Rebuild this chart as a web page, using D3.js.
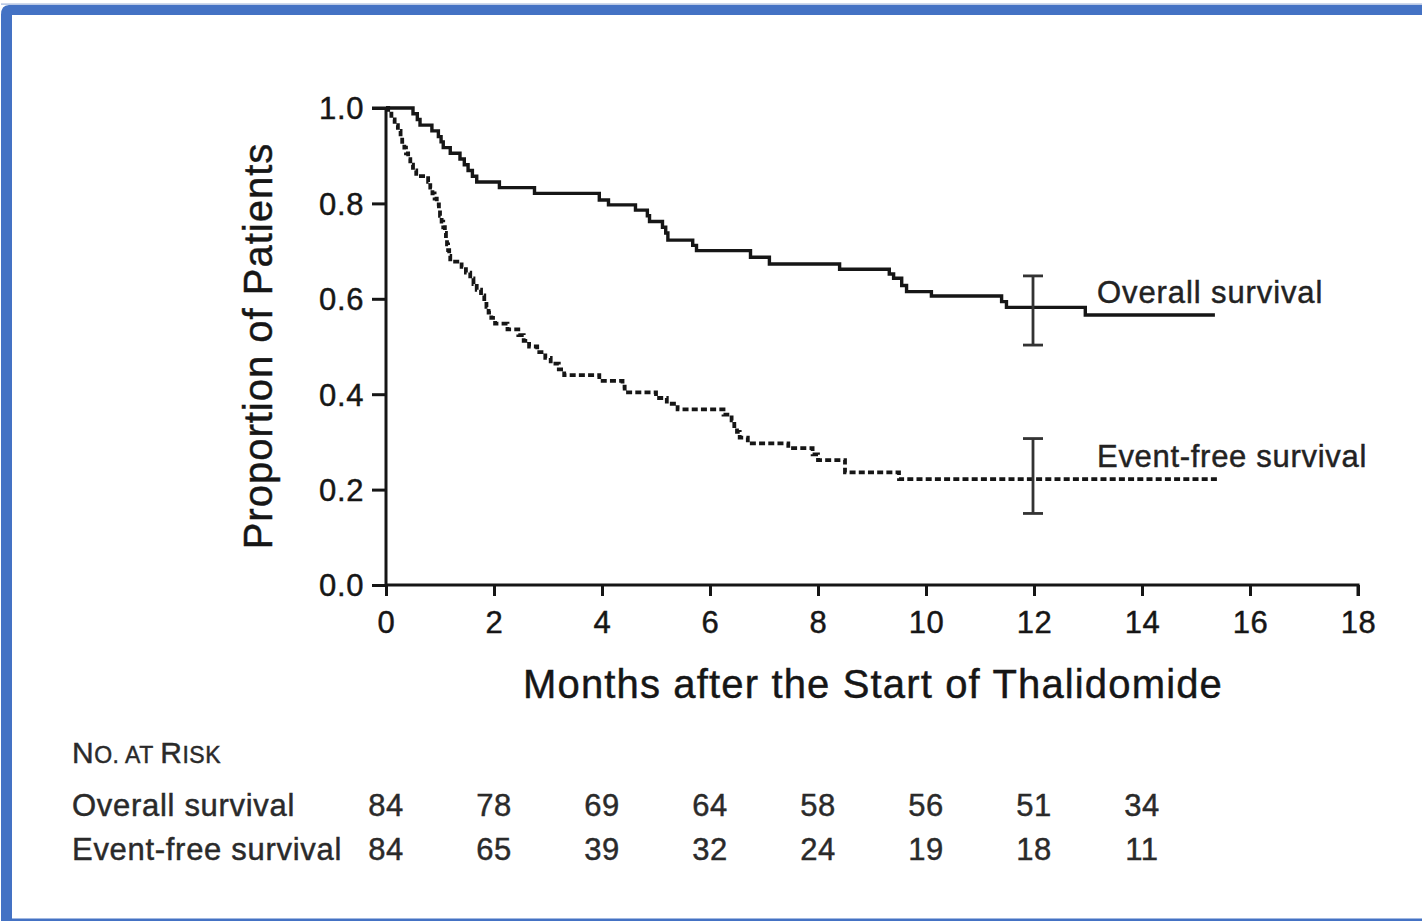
<!DOCTYPE html>
<html><head><meta charset="utf-8">
<script src="https://cdn.jsdelivr.net/npm/d3@7"></script>
<style>
html,body{margin:0;padding:0;background:#fff;}
svg{display:block;font-family:"Liberation Sans",Arial,Helvetica,sans-serif;}
</style></head>
<body><svg id="c" width="1422" height="921"></svg>
<script>
// ---- data ----
const osTimes = [0,0.5,0.58,0.63,0.85,0.97,1.02,1.06,1.19,1.37,1.45,1.52,1.6,1.68,2.1,2.75,3.95,4.12,4.62,4.84,4.88,5.12,5.18,5.22,5.68,5.75,6.75,7.1,8.4,9.32,9.4,9.55,9.64,10.1,11.4,11.49,12.95,15.35];
const osSurv  = [1.0,0.988,0.976,0.964,0.952,0.94,0.929,0.917,0.905,0.893,0.881,0.869,0.857,0.845,0.833,0.821,0.807,0.797,0.786,0.774,0.762,0.75,0.738,0.723,0.712,0.701,0.687,0.673,0.662,0.652,0.643,0.628,0.615,0.606,0.594,0.582,0.566,0.566];
const efsTimes = [0,0.04,0.1,0.16,0.22,0.27,0.3,0.34,0.37,0.41,0.45,0.5,0.56,0.78,0.82,0.86,0.9,0.94,0.98,1.0,1.03,1.06,1.09,1.11,1.13,1.15,1.17,1.19,1.4,1.48,1.56,1.62,1.68,1.76,1.82,1.86,1.9,1.95,2.02,2.25,2.45,2.55,2.65,2.8,2.95,3.05,3.2,3.3,3.95,4.38,4.42,5.0,5.2,5.4,6.25,6.4,6.45,6.5,6.55,6.7,7.45,7.9,8.0,8.5,9.5,15.44];
const efsSurv  = [1.0,0.988,0.976,0.964,0.952,0.94,0.929,0.917,0.905,0.893,0.881,0.869,0.857,0.845,0.833,0.821,0.81,0.798,0.786,0.774,0.762,0.75,0.738,0.726,0.714,0.702,0.69,0.678,0.667,0.655,0.643,0.631,0.619,0.607,0.595,0.583,0.571,0.56,0.548,0.536,0.524,0.512,0.5,0.488,0.476,0.464,0.452,0.44,0.428,0.416,0.404,0.392,0.38,0.368,0.357,0.345,0.333,0.321,0.309,0.297,0.287,0.274,0.262,0.236,0.222,0.222];
const errTime = 12;
const osCI  = [0.503, 0.648];
const efsCI = [0.15, 0.307];
const xTicks = [0,2,4,6,8,10,12,14,16,18];
const yTicks = [0,0.2,0.4,0.6,0.8,1.0];
const riskTimes = [0,2,4,6,8,10,12,14];
const riskOS  = [84,78,69,64,58,56,51,34];
const riskEFS = [84,65,39,32,24,19,18,11];
const seriesNames = ["Overall survival","Event-free survival"];

// ---- drawing ----
const svg = d3.select("#c");
const blue = "#4472C4";
// frame
svg.append("rect").attr("x",1).attr("y",3.5).attr("width",1421).attr("height",1.2).attr("fill","#9fb4dc");
svg.append("path").attr("fill",blue)
  .attr("d","M1,15 Q1,5 9,5 L1422,5 L1422,15 L12,15 L12,921 L1,921 Z");
svg.append("rect").attr("x",12).attr("y",918.5).attr("width",1410).attr("height",2.5).attr("fill",blue);

const x = d3.scaleLinear().domain([0,18]).range([386,1358]);
const y = d3.scaleLinear().domain([0,1]).range([585,108]);
const ink = "#161616";

function heavy(sel, col){ return sel.attr("stroke",col).attr("stroke-width",0.45).attr("paint-order","stroke"); }

// axes
const gx = svg.append("g").attr("transform","translate(0,585)")
  .call(d3.axisBottom(x).tickValues(xTicks).tickSize(11).tickPadding(6).tickFormat(d3.format("d")));
const gy = svg.append("g").attr("transform","translate(386,0)")
  .call(d3.axisLeft(y).tickValues(yTicks).tickSize(14).tickPadding(8).tickFormat(d3.format(".1f")));
[gx,gy].forEach(g=>{
  g.select(".domain").attr("stroke",ink).attr("stroke-width",3);
  g.selectAll(".tick line").attr("stroke",ink).attr("stroke-width",3);
  heavy(g.selectAll(".tick text").attr("fill",ink).attr("font-size",31).attr("letter-spacing",0.6)
    .attr("font-family","Liberation Sans, Arial, sans-serif"), ink);
});
gx.select(".domain").attr("d","M386,0H1358V11");
gy.select(".domain").attr("d","M0,585V108H-14");
gx.selectAll(".tick text").attr("dy","1.0em");
gy.selectAll(".tick text").attr("dy","0.35em");

// axis titles
heavy(svg.append("text").attr("x",873).attr("y",698).attr("text-anchor","middle")
  .attr("font-size",40).attr("letter-spacing",1.15).attr("fill",ink).text("Months after the Start of Thalidomide"), ink);
heavy(svg.append("text").attr("transform","translate(272,346) rotate(-90)").attr("text-anchor","middle")
  .attr("font-size",40).attr("letter-spacing",1.0).attr("fill",ink).text("Proportion of Patients"), ink);

// curves
const line = d3.line().x(d=>x(d[0])).y(d=>y(d[1])).curve(d3.curveStepAfter);
const osData = osTimes.map((t,i)=>[t,osSurv[i]]);
const efsData = efsTimes.map((t,i)=>[t,efsSurv[i]]);
svg.append("path").datum(osData).attr("d",line).attr("fill","none").attr("stroke",ink).attr("stroke-width",3.4);
svg.append("path").datum(efsData).attr("d",line).attr("fill","none").attr("stroke",ink).attr("stroke-width",3.8).attr("stroke-dasharray","6,3.2");

// error bars
[osCI,efsCI].forEach(ci=>{
  const g = svg.append("g").attr("stroke","#333").attr("stroke-width",2.8);
  const cx = x(errTime)-1;
  g.append("line").attr("x1",cx).attr("x2",cx).attr("y1",y(ci[0])).attr("y2",y(ci[1]));
  g.append("line").attr("x1",cx-10).attr("x2",cx+10).attr("y1",y(ci[0])).attr("y2",y(ci[0]));
  g.append("line").attr("x1",cx-10).attr("x2",cx+10).attr("y1",y(ci[1])).attr("y2",y(ci[1]));
});

// series labels
heavy(svg.append("text").attr("x",1097).attr("y",303).attr("font-size",31).attr("letter-spacing",0.9).attr("fill","#222").text(seriesNames[0]), "#222");
heavy(svg.append("text").attr("x",1097).attr("y",467).attr("font-size",31).attr("letter-spacing",0.7).attr("fill","#222").text(seriesNames[1]), "#222");

// number at risk table
const tcol = "#2a2a2a";
const hdr = heavy(svg.append("text").attr("x",72).attr("y",763).attr("font-size",30).attr("letter-spacing",0.5).attr("fill",tcol), tcol);
hdr.append("tspan").text("N");
hdr.append("tspan").attr("font-size",23).text("O. AT ");
hdr.append("tspan").text("R");
hdr.append("tspan").attr("font-size",23).text("ISK");

const rows = [riskOS, riskEFS];
const rowY = [816, 860];
rows.forEach((vals,r)=>{
  heavy(svg.append("text").attr("x",72).attr("y",rowY[r]).attr("font-size",31).attr("letter-spacing",0.7).attr("fill",tcol).text(seriesNames[r]), tcol);
  heavy(svg.selectAll(null).data(vals).enter().append("text")
    .attr("x",(d,i)=>x(riskTimes[i])).attr("y",rowY[r]).attr("text-anchor","middle")
    .attr("font-size",31).attr("letter-spacing",0.6).attr("fill",tcol).text(d=>d), tcol);
});
</script></body></html>
